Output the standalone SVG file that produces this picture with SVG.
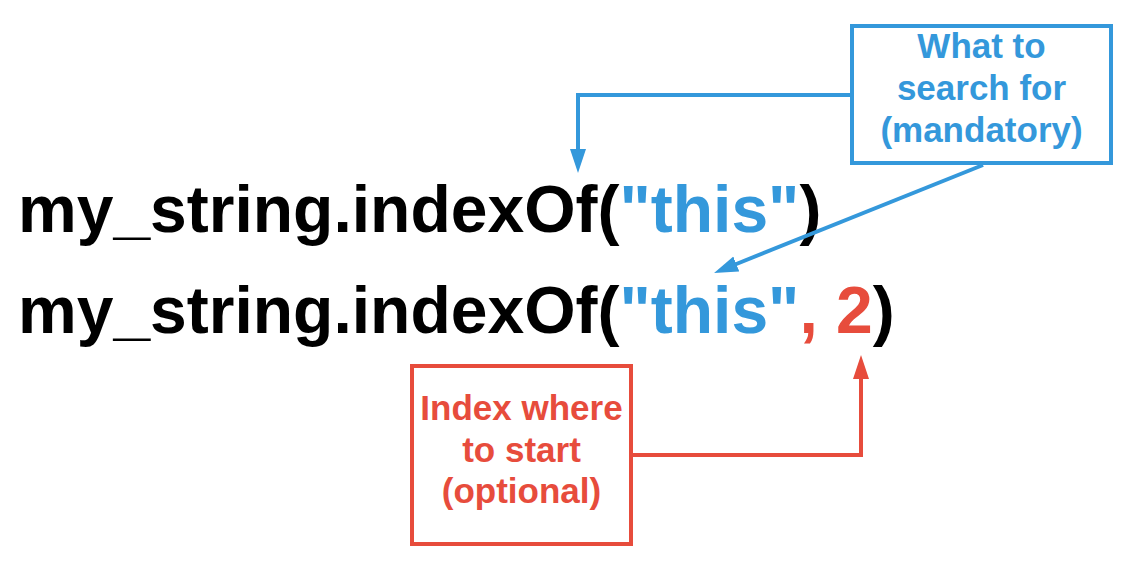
<svg xmlns="http://www.w3.org/2000/svg" width="1136" height="570" viewBox="0 0 1136 570">
<style>
  text { font-family: "Liberation Sans", Arial, sans-serif; font-weight: bold; }
  .code { font-size: 66px; fill: #000; }
  .blue { fill: #3498db; }
  .red { fill: #e74c3c; }
  .lbl { font-size: 35px; text-anchor: middle; }
  .box-blue { fill: #fff; stroke: #3498db; stroke-width: 4; }
  .box-red { fill: #fff; stroke: #e74c3c; stroke-width: 4; }
  .conn-blue { fill: none; stroke: #3498db; stroke-width: 4; }
  .conn-red { fill: none; stroke: #e74c3c; stroke-width: 4; }
</style>
<defs>
  <marker id="arrow-blue" markerUnits="userSpaceOnUse" markerWidth="26" markerHeight="18" refX="4" refY="8" orient="auto" viewBox="0 0 26 18">
    <path d="M0,0 L24,8 L0,16 z" fill="#3498db"/>
  </marker>
  <marker id="arrow-red" markerUnits="userSpaceOnUse" markerWidth="26" markerHeight="18" refX="4" refY="8" orient="auto" viewBox="0 0 26 18">
    <path d="M0,0 L24,8 L0,16 z" fill="#e74c3c"/>
  </marker>
</defs>
<rect width="1136" height="570" fill="#fff"/>
<g id="code">
  <text class="code" x="18" y="232">my_string.indexOf(<tspan class="blue">"this"</tspan>)</text>
  <text class="code" x="18" y="333">my_string.indexOf(<tspan class="blue">"this"</tspan><tspan class="red">, 2</tspan>)</text>
</g>
<g id="connectors">
  <path class="conn-blue" d="M852,95 H578 V153" marker-end="url(#arrow-blue)"/>
  <path class="conn-blue" d="M983,165 L732.6,265.5" marker-end="url(#arrow-blue)"/>
  <path class="conn-red" d="M631,455 H861 V375" marker-end="url(#arrow-red)"/>
</g>
<g id="node-search">
  <rect class="box-blue" x="852" y="26" width="259" height="137"/>
  <text class="lbl blue" x="981.5" y="58">What to</text>
  <text class="lbl blue" x="981.5" y="100">search for</text>
  <text class="lbl blue" x="981.5" y="142">(mandatory)</text>
</g>
<g id="node-index">
  <rect class="box-red" x="412" y="366" width="219" height="178"/>
  <text class="lbl red" x="521.5" y="420">Index where</text>
  <text class="lbl red" x="521.5" y="462">to start</text>
  <text class="lbl red" x="521.5" y="503">(optional)</text>
</g>
</svg>
